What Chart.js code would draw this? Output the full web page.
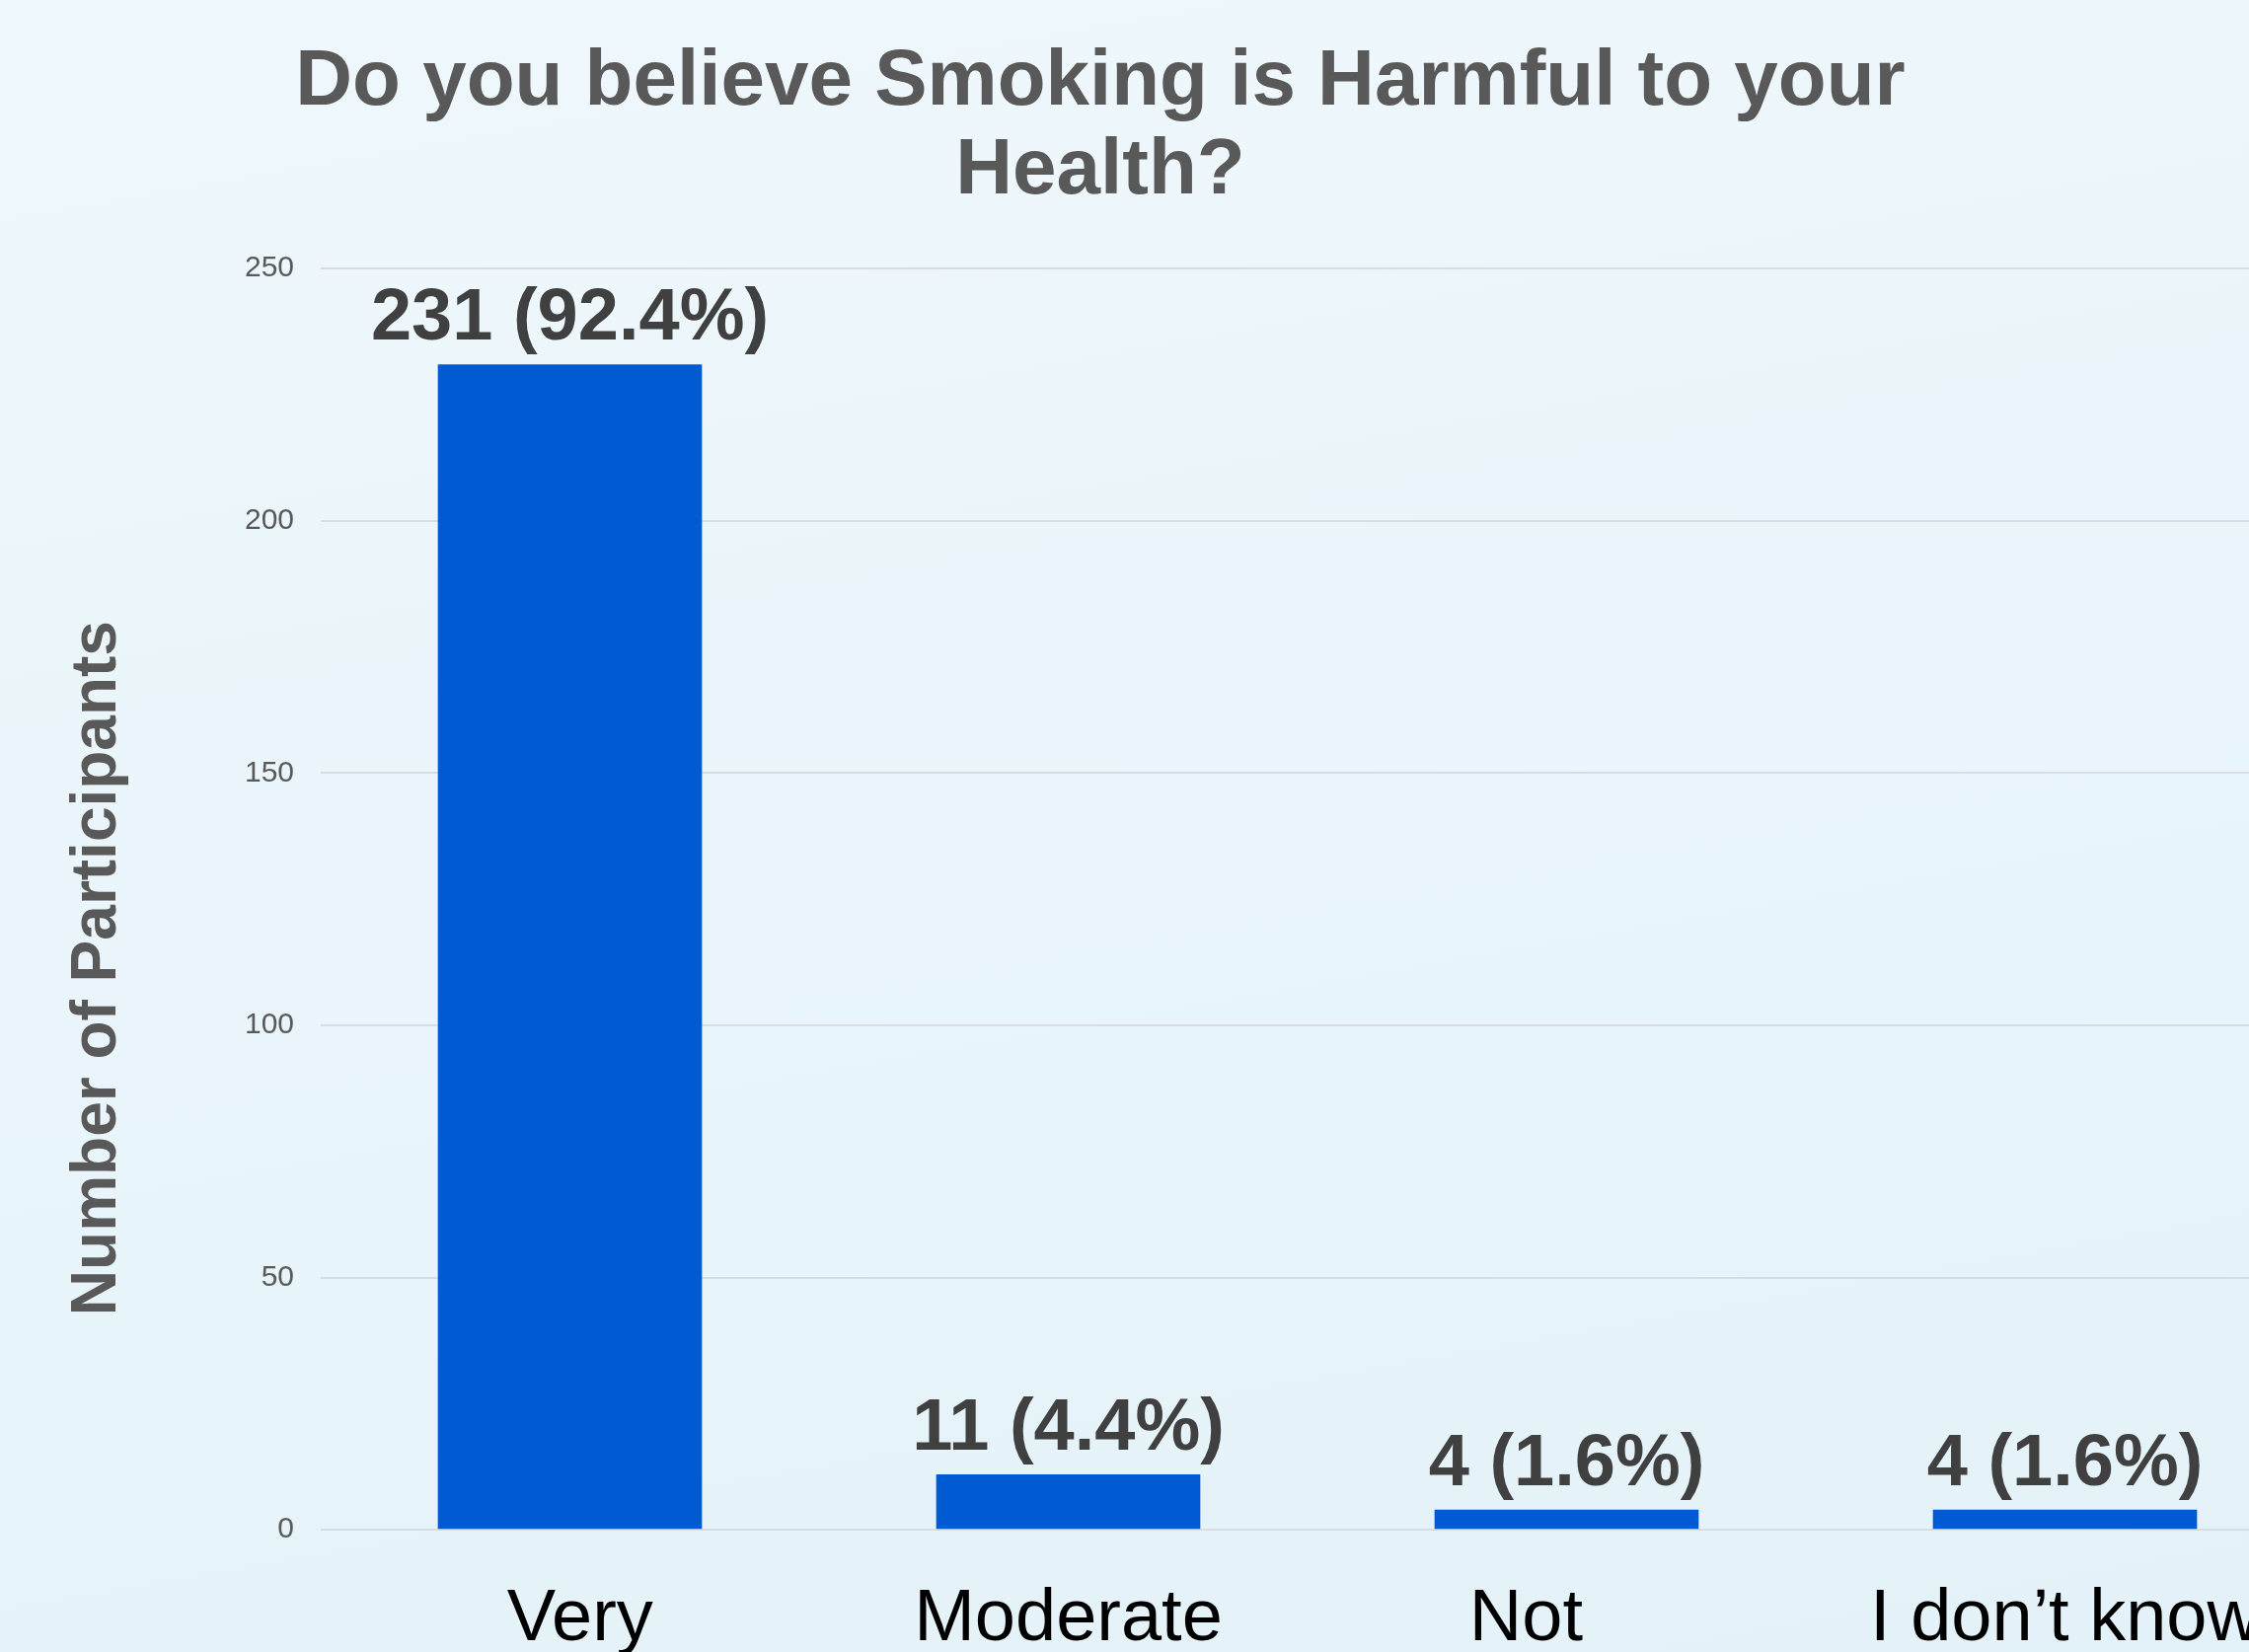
<!DOCTYPE html>
<html>
<head>
<meta charset="utf-8">
<script src="https://cdn.jsdelivr.net/npm/chart.js@4"></script>
<style>
  html, body { margin: 0; padding: 0; overflow: hidden; }
  body {
    width: 2279px; height: 1674px;
    background: linear-gradient(170deg, #eef7fc 0%, #e9f5fa 50%, #e3f2f8 100%);
  }
  #wrap { position: absolute; left: 0; top: 0; }
</style>
</head>
<body>
<div id="wrap"><canvas id="bar-chart" width="2345" height="1733"></canvas></div>
<script>
// labels keep the original's uneven spacing around the words
const categories = [" Very", "Moderate", "Not    ", "I don\u2019t know"];
const participants = [231, 11, 4, 4];
const percentLabels = ["92.4%", "4.4%", "1.6%", "1.6%"];
const yTicks = [0, 50, 100, 150, 200, 250];

const FONT = "'Liberation Sans', Arial, Helvetica, sans-serif";

// value labels above each bar
const barLabels = {
  id: 'barLabels',
  afterDatasetsDraw(chart) {
    const ctx = chart.ctx;
    const meta = chart.getDatasetMeta(0);
    ctx.save();
    ctx.font = "bold 74px " + FONT;
    ctx.fillStyle = "#404040";
    ctx.textAlign = "center";
    ctx.textBaseline = "alphabetic";
    meta.data.forEach((bar, i) => {
      ctx.fillText(participants[i] + " (" + percentLabels[i] + ")", bar.x, bar.y - 25);
    });
    ctx.restore();
  }
};

// title sits left of the canvas centre in the original
const titleShift = {
  id: 'titleShift',
  afterLayout(chart) {
    const t = chart.titleBlock;
    t.right = t.left + 2230;
    t.width = 2230;
  }
};

// y axis title, drawn a little below the plot centre like the original
const yTitle = {
  id: 'yTitle',
  afterDraw(chart) {
    const ctx = chart.ctx;
    const area = chart.chartArea;
    ctx.save();
    ctx.translate(99, (area.top + area.bottom) / 2 + 70);
    ctx.rotate(-Math.PI / 2);
    ctx.font = "bold 64px " + FONT;
    ctx.fillStyle = "#595959";
    ctx.textAlign = "center";
    ctx.textBaseline = "middle";
    ctx.fillText("Number of Participants", 0, 0);
    ctx.restore();
  }
};

new Chart(document.getElementById("bar-chart"), {
  type: 'bar',
  data: {
    labels: categories,
    datasets: [{
      data: participants,
      backgroundColor: "#005bd3",
      borderWidth: 0,
      categoryPercentage: 1.0,
      barPercentage: 0.53
    }]
  },
  options: {
    responsive: false,
    animation: false,
    layout: { padding: 0 },
    plugins: {
      legend: { display: false },
      tooltip: { enabled: false },
      title: {
        display: true,
        text: ["Do you believe Smoking is Harmful to your", "Health?"],
        color: "#595959",
        font: { family: FONT, size: 80, weight: 'bold', lineHeight: 1.125 },
        padding: { top: 39, bottom: 53 }
      }
    },
    scales: {
      x: {
        grid: { display: false, drawTicks: false },
        border: { display: false },
        ticks: {
          color: "#000000",
          padding: 47,
          font: { family: FONT, size: 74 },
          maxRotation: 0,
          autoSkip: false
        }
      },
      y: {
        min: 0,
        max: 250,
        afterBuildTicks(scale) {
          scale.ticks = yTicks.map(v => ({ value: v }));
        },
        afterFit(scale) { scale.width = 325; },
        grid: { color: "#d9dcdf", lineWidth: 2, drawTicks: false },
        border: { display: false },
        ticks: {
          color: "#595959",
          padding: 27,
          font: { family: FONT, size: 30 }
        }
      }
    }
  },
  plugins: [barLabels, titleShift, yTitle]
});
</script>
</body>
</html>
